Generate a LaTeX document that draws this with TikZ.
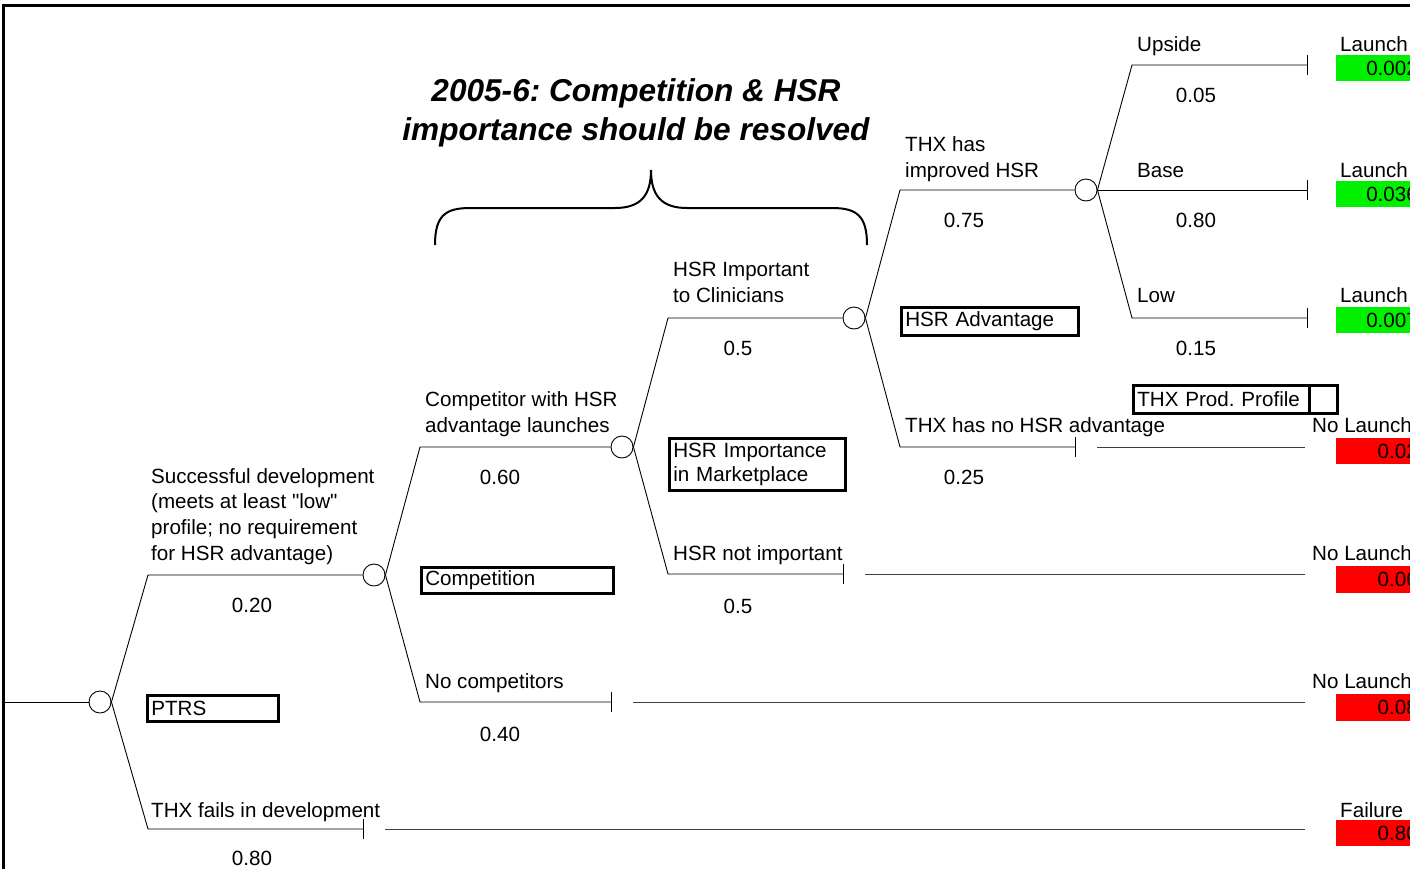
\documentclass[tikz,border=0pt]{standalone}
\usepackage{fontspec}
\setmainfont{Liberation Sans}
\definecolor{endgreen}{RGB}{0,240,0}
\definecolor{endred}{RGB}{255,0,0}
\frenchspacing
\begin{document}
\begin{tikzpicture}[x=1pt,y=-1pt,
  font=\fontsize{20.6}{25.6}\selectfont,
  branch/.style={line width=0.9pt},
  trail/.style={line width=0.9pt,draw=black!75},
  chance/.style={circle,draw,line width=0.9pt,fill=white,minimum size=22pt,inner sep=0pt},
  lbl/.style={anchor=base west,inner sep=0pt,align=left},
  prob/.style={anchor=base,inner sep=0pt},
  namebox/.style={draw,line width=2.6pt,anchor=north west,inner xsep=4pt,inner ysep=0pt,align=left},
  endlbl/.style={anchor=base west,inner sep=0pt},
  endval/.style={anchor=east,inner sep=0pt},
]
\clip (0,0) rectangle (1410,868);
\useasboundingbox (0,0) rectangle (1410,868);

% frame
\draw[line width=3pt] (3.5,870) -- (3.5,5) -- (1412,5);

% title and brace
\node[font=\fontsize{31.6}{38.5}\selectfont\bfseries\itshape,align=center,anchor=base,inner sep=0pt] (title) at (636,140)
  {2005-6: Competition \& HSR\\importance should be resolved};
\draw[line width=2pt] (435,245) .. controls (435,216) and (445,208) .. (470,208) -- (615,208)
  .. controls (640,208) and (651,196) .. (651,170)
  .. controls (651,196) and (662,208) .. (687,208) -- (832,208)
  .. controls (857,208) and (867,216) .. (867,245);

% chance nodes
\node[chance] (c1) at (100,702) {};
\node[chance] (c2) at (374,575) {};
\node[chance] (c3) at (622,447) {};
\node[chance] (c4) at (854,318) {};
\node[chance] (c5) at (1086,190) {};

% coordinates
\coordinate (start) at (3,702);
\coordinate (k1u) at (148,575);
\coordinate (k1d) at (148,829);
\coordinate (t1) at (363,829);
\coordinate (r1) at (385,829);
\coordinate (e1) at (1305,829);
\coordinate (k2u) at (420,447);
\coordinate (k2d) at (420,702);
\coordinate (t2) at (611,702);
\coordinate (r2) at (633,702);
\coordinate (e2) at (1305,702);
\coordinate (k3u) at (668,318);
\coordinate (k3d) at (668,574);
\coordinate (t3) at (843,574);
\coordinate (r3) at (865,574);
\coordinate (e3) at (1305,574);
\coordinate (k4u) at (900,190);
\coordinate (k4d) at (900,447);
\coordinate (t4) at (1075,447);
\coordinate (r4) at (1097,447);
\coordinate (e4) at (1305,447);
\coordinate (k5u) at (1132,65);
\coordinate (t5u) at (1307,65);
\coordinate (t5m) at (1307,190);
\coordinate (k5d) at (1132,318);
\coordinate (t5d) at (1307,318);

% branches
\draw[branch] (start) -- (c1.west);
\draw[branch] (c1.east) -- (k1u) -- (c2.west);
\draw[branch] (c1.east) -- (k1d) -- (t1);
\draw[branch] (c2.east) -- (k2u) -- (c3.west);
\draw[branch] (c2.east) -- (k2d) -- (t2);
\draw[branch] (c3.east) -- (k3u) -- (c4.west);
\draw[branch] (c3.east) -- (k3d) -- (t3);
\draw[branch] (c4.east) -- (k4u) -- (c5.west);
\draw[branch] (c4.east) -- (k4d) -- (t4);
\draw[branch] (c5.east) -- (k5u) -- (t5u);
\draw[branch] (c5.east) -- (t5m);
\draw[branch] (c5.east) -- (k5d) -- (t5d);

% terminal ticks
\foreach \t in {t1,t2,t3,t4,t5u,t5m,t5d}
  \draw[branch] ([yshift=-10pt]\t) -- ([yshift=10pt]\t);

% trailing lines
\draw[trail] (r1) -- (e1);
\draw[trail] (r2) -- (e2);
\draw[trail] (r3) -- (e3);
\draw[trail] (r4) -- (e4);

% branch labels (base = baseline of last line)
\node[lbl] (l1) at (151,560) {Successful development\\(meets at least \textquotedbl low\textquotedbl\\profile; no requirement\\for HSR advantage)};
\node[prob] (p1) at (252,612) {0.20};
\node[lbl] (l2) at (151,817) {THX fails in development};
\node[prob] (p2) at (252,865) {0.80};
\node[lbl] (l3) at (425,432) {Competitor with HSR\\advantage launches};
\node[prob] (p3) at (500,484) {0.60};
\node[lbl] (l4) at (425,688) {No competitors};
\node[prob] (p4) at (500,741) {0.40};
\node[lbl] (l5) at (673,302) {HSR Important\\to Clinicians};
\node[prob] (p5) at (738,355) {0.5};
\node[lbl] (l6) at (673,560) {HSR not important};
\node[prob] (p6) at (738,613) {0.5};
\node[lbl] (l7) at (905,177) {THX has\\improved HSR};
\node[prob] (p7) at (964,227) {0.75};
\node[lbl] (l8) at (905,432) {THX has no HSR advantage};
\node[prob] (p8) at (964,484) {0.25};
\node[lbl] (l9) at (1137,51) {Upside};
\node[prob] (p9) at (1196,102) {0.05};
\node[lbl] (l10) at (1137,177) {Base};
\node[prob] (p10) at (1196,227) {0.80};
\node[lbl] (l11) at (1137,302) {Low};
\node[prob] (p11) at (1196,355) {0.15};

% node name boxes
\node[namebox,minimum width=131pt,minimum height=26pt,text width=123pt] (bPTRS) at (146,694) {PTRS};
\node[namebox,minimum width=192pt,minimum height=26pt,text width=184pt] (bComp) at (420,566) {Competition};
\node[namebox,minimum width=176pt,minimum height=52pt,text width=168pt,font=\fontsize{20.6}{24.5}\selectfont] (bImp) at (668,437) {HSR Importance\\in Marketplace};
\node[namebox,minimum width=177pt,minimum height=28pt,text width=169pt] (bAdv) at (900,306) {HSR Advantage};
\node[namebox,minimum width=176pt,minimum height=28pt,text width=168pt] (bProf) at (1132,384) {THX Prod. Profile};
\node[namebox,minimum width=28pt,minimum height=28pt] (bProf2) at (1308,384) {};

% end labels and values
\node[endlbl] (n1) at (1340,51) {Launch};
\node[endlbl] (n2) at (1340,177) {Launch};
\node[endlbl] (n3) at (1340,302) {Launch};
\node[endlbl] (n4) at (1312,432) {No Launch};
\node[endlbl] (n5) at (1312,560) {No Launch};
\node[endlbl] (n6) at (1312,688) {No Launch};
\node[endlbl] (n7) at (1340,817) {Failure};

\fill[endgreen] (1336,55) rectangle (1412,81);
\fill[endgreen] (1336,181) rectangle (1412,207);
\fill[endgreen] (1336,307) rectangle (1412,333);
\fill[endred] (1336,438) rectangle (1412,464);
\fill[endred] (1336,566) rectangle (1412,593);
\fill[endred] (1336,694) rectangle (1412,721);
\fill[endred] (1336,820) rectangle (1412,846);

\node[endval] (v1) at (1418,68) {0.002};
\node[endval] (v2) at (1418,194) {0.036};
\node[endval] (v3) at (1418,320) {0.007};
\node[endval] (v4) at (1418,451) {0.02};
\node[endval] (v5) at (1418,579.5) {0.06};
\node[endval] (v6) at (1418,707.5) {0.08};
\node[endval] (v7) at (1418,833) {0.80};
\end{tikzpicture}
\end{document}
